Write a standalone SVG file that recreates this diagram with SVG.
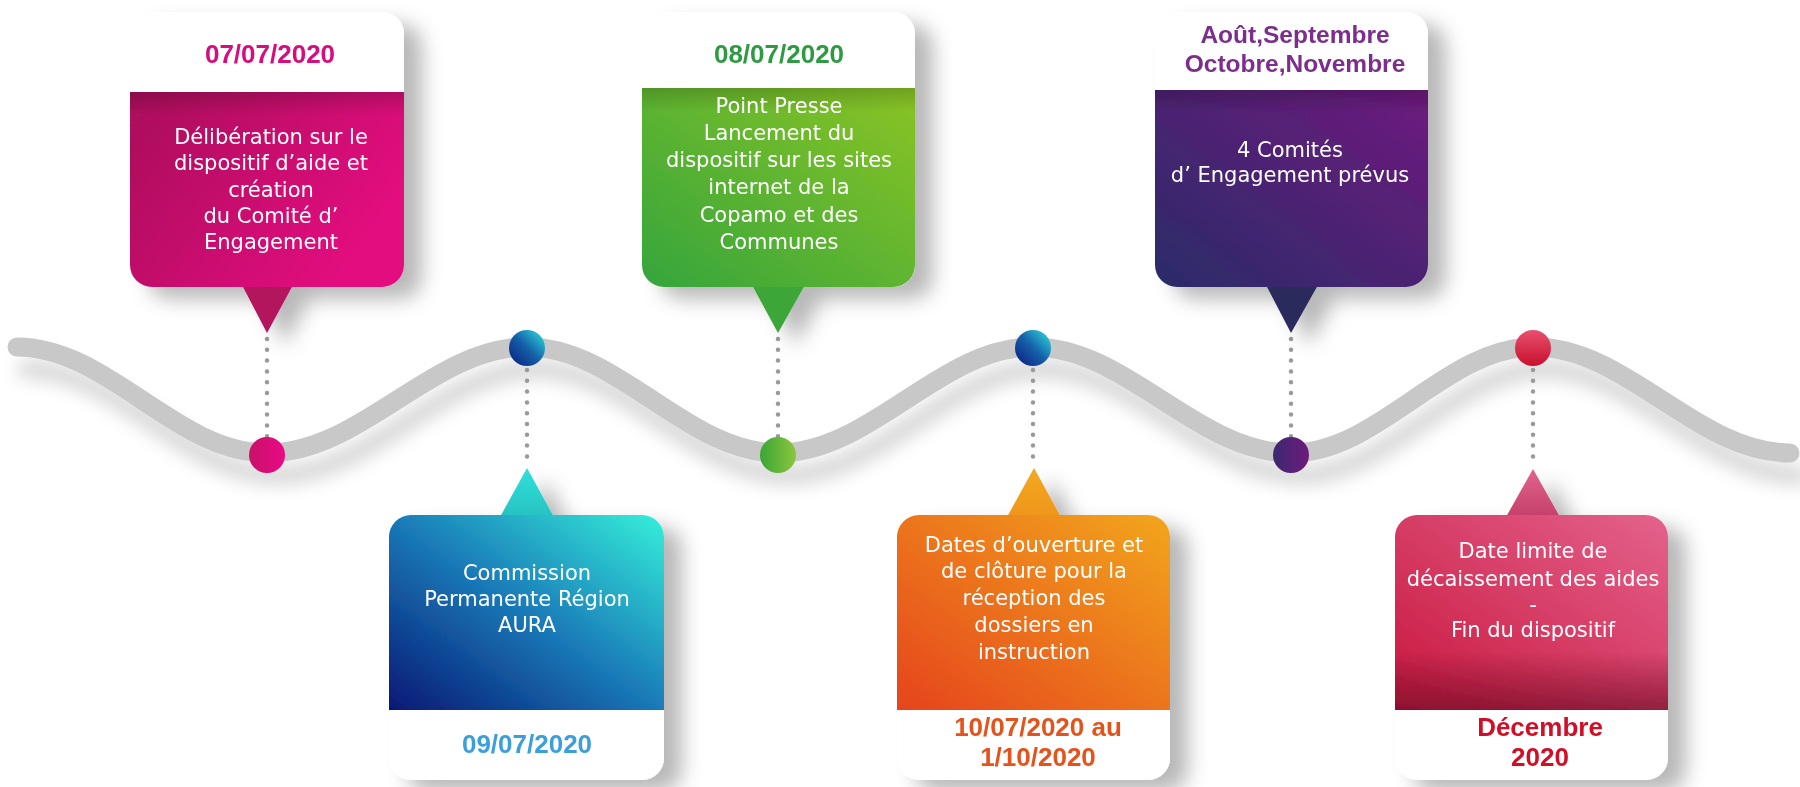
<svg xmlns="http://www.w3.org/2000/svg" width="1800" height="787" viewBox="0 0 1800 787">
<style>
.body{font-family:"DejaVu Sans","Liberation Sans",sans-serif;font-size:21px;fill:#ffffff;text-anchor:middle}
.date{font-family:"Liberation Sans",Arial,sans-serif;font-weight:700;font-size:26px;text-anchor:middle}
.dots{fill:none;stroke:#9a9a9a;stroke-width:4.5;stroke-linecap:round;stroke-dasharray:0 10.8}
.wave{fill:none;stroke:#c8c8c8;stroke-width:19;stroke-linecap:round}
.card{filter:url(#shadow)}
</style>
<defs>
<filter id="shadow" x="-30%" y="-30%" width="160%" height="160%">
<feDropShadow dx="18" dy="12" stdDeviation="10" flood-color="#000" flood-opacity="0.28"/>
</filter>
<filter id="blur" x="-10%" y="-50%" width="120%" height="200%">
<feGaussianBlur stdDeviation="9"/>
</filter>
<linearGradient id="gPink" x1="0" y1="0" x2="1" y2="0.5"><stop offset="0" stop-color="#a9125a"/><stop offset="1" stop-color="#e3087f"/></linearGradient>
<linearGradient id="gGreen" x1="1" y1="0" x2="0" y2="1"><stop offset="0" stop-color="#8ac425"/><stop offset="1" stop-color="#35a53c"/></linearGradient>
<linearGradient id="gPurple" x1="1" y1="0" x2="0" y2="1"><stop offset="0" stop-color="#6e1a7e"/><stop offset="1" stop-color="#2a2c68"/></linearGradient>
<linearGradient id="gBlue" x1="1" y1="0" x2="0" y2="1"><stop offset="0" stop-color="#35f0da"/><stop offset="0.5" stop-color="#1a7ab8"/><stop offset="1" stop-color="#061874"/></linearGradient>
<linearGradient id="gOrange" x1="1" y1="0" x2="0" y2="1"><stop offset="0" stop-color="#f2a61e"/><stop offset="1" stop-color="#e6441c"/></linearGradient>
<linearGradient id="gRed" x1="1" y1="0" x2="0" y2="1"><stop offset="0" stop-color="#e4628c"/><stop offset="1" stop-color="#c8173e"/></linearGradient>
<linearGradient id="gDark" x1="0" y1="0" x2="0" y2="1"><stop offset="0.7" stop-color="#5a0a20" stop-opacity="0"/><stop offset="1" stop-color="#5a0a20" stop-opacity="0.55"/></linearGradient>
<linearGradient id="gTop" x1="0" y1="0" x2="0" y2="1"><stop offset="0" stop-color="#000" stop-opacity="0.18"/><stop offset="0.12" stop-color="#000" stop-opacity="0"/></linearGradient>
<linearGradient id="cPink" x1="0" y1="0" x2="1" y2="0"><stop offset="0" stop-color="#c8106a"/><stop offset="1" stop-color="#ea0a84"/></linearGradient>
<linearGradient id="cBlue" x1="1" y1="0" x2="0" y2="1"><stop offset="0" stop-color="#30e4e0"/><stop offset="0.5" stop-color="#1560a8"/><stop offset="1" stop-color="#0a1a80"/></linearGradient>
<linearGradient id="cGreen" x1="0" y1="0" x2="1" y2="0"><stop offset="0" stop-color="#3aa535"/><stop offset="1" stop-color="#8cc63f"/></linearGradient>
<linearGradient id="cPurple" x1="0" y1="0" x2="1" y2="0"><stop offset="0" stop-color="#3a2a70"/><stop offset="1" stop-color="#6e1a7c"/></linearGradient>
<linearGradient id="cRed" x1="0" y1="0" x2="0" y2="1"><stop offset="0" stop-color="#e8506e"/><stop offset="1" stop-color="#c8102e"/></linearGradient>
<linearGradient id="tTeal" x1="0" y1="0" x2="0" y2="1"><stop offset="0" stop-color="#30e0d8"/><stop offset="1" stop-color="#27c3c3"/></linearGradient>
<linearGradient id="tOrange" x1="0" y1="0" x2="0" y2="1"><stop offset="0" stop-color="#f2a820"/><stop offset="1" stop-color="#ef961e"/></linearGradient>
<linearGradient id="tRed" x1="0" y1="0" x2="0" y2="1"><stop offset="0" stop-color="#e2648e"/><stop offset="1" stop-color="#c4406a"/></linearGradient>
</defs>
<rect width="1800" height="787" fill="#ffffff"/>

<g id="timeline">
<path class="wave" filter="url(#blur)" style="stroke:#000;stroke-opacity:0.16" transform="translate(10,22)" d="M17 347 C108 347 176 453 267 453 C362 453 432 347 527 347 C618 347 687 453 778 453 C871 453 940 347 1033 347 C1127 347 1197 453 1291 453 C1379 453 1446 347 1534 347 C1627 347 1697 453 1790 453"/>
<path class="wave" d="M17 347 C108 347 176 453 267 453 C362 453 432 347 527 347 C618 347 687 453 778 453 C871 453 940 347 1033 347 C1127 347 1197 453 1291 453 C1379 453 1446 347 1534 347 C1627 347 1697 453 1790 453"/>
</g>

<g id="connectors">
<line class="dots" x1="267" y1="339" x2="267" y2="437"/>
<line class="dots" x1="778" y1="339" x2="778" y2="437"/>
<line class="dots" x1="1291" y1="339" x2="1291" y2="437"/>
<line class="dots" x1="527" y1="370" x2="527" y2="466"/>
<line class="dots" x1="1033" y1="370" x2="1033" y2="466"/>
<line class="dots" x1="1533" y1="370" x2="1533" y2="466"/>
</g>

<g id="markers">
<circle cx="267" cy="455" r="18" fill="url(#cPink)"/>
<circle cx="527" cy="348" r="18" fill="url(#cBlue)"/>
<circle cx="778" cy="455" r="18" fill="url(#cGreen)"/>
<circle cx="1033" cy="348" r="18" fill="url(#cBlue)"/>
<circle cx="1291" cy="455" r="18" fill="url(#cPurple)"/>
<circle cx="1533" cy="348" r="18" fill="url(#cRed)"/>
</g>

<g id="card-0707" class="card">
<polygon points="242,285 293,285 267,333" fill="#b3125c"/>
<rect x="130" y="12" width="274" height="275" rx="22" fill="#ffffff"/>
<path d="M130 92 H404 V265 A22 22 0 0 1 382 287 H152 A22 22 0 0 1 130 265 Z" fill="url(#gPink)"/>
<path d="M130 92 H404 V265 A22 22 0 0 1 382 287 H152 A22 22 0 0 1 130 265 Z" fill="url(#gTop)"/>
<text class="date" x="270" y="63" fill="#d60a7c">07/07/2020</text>
<text class="body" x="271" y="144">Délibération sur le</text>
<text class="body" x="271" y="170">dispositif d’aide et</text>
<text class="body" x="271" y="197">création</text>
<text class="body" x="271" y="223">du Comité d’</text>
<text class="body" x="271" y="249">Engagement</text>
</g>

<g id="card-0807" class="card">
<polygon points="752,285 805,285 778,333" fill="#3ca637"/>
<rect x="642" y="12" width="273" height="275" rx="22" fill="#ffffff"/>
<path d="M642 88 H915 V265 A22 22 0 0 1 893 287 H664 A22 22 0 0 1 642 265 Z" fill="url(#gGreen)"/>
<path d="M642 88 H915 V265 A22 22 0 0 1 893 287 H664 A22 22 0 0 1 642 265 Z" fill="url(#gTop)"/>
<text class="date" x="779" y="63" fill="#2f9a42">08/07/2020</text>
<text class="body" x="779" y="113">Point Presse</text>
<text class="body" x="779" y="140">Lancement du</text>
<text class="body" x="779" y="167">dispositif sur les sites</text>
<text class="body" x="779" y="194">internet de la</text>
<text class="body" x="779" y="222">Copamo et des</text>
<text class="body" x="779" y="249">Communes</text>
</g>

<g id="card-aout-nov" class="card">
<polygon points="1266,285 1318,285 1291,333" fill="#2c2a5c"/>
<rect x="1155" y="12" width="273" height="275" rx="22" fill="#ffffff"/>
<path d="M1155 90 H1428 V265 A22 22 0 0 1 1406 287 H1177 A22 22 0 0 1 1155 265 Z" fill="url(#gPurple)"/>
<path d="M1155 90 H1428 V265 A22 22 0 0 1 1406 287 H1177 A22 22 0 0 1 1155 265 Z" fill="url(#gTop)"/>
<text class="date" x="1295" y="43" fill="#7c2d8d" style="font-size:24.5px">Août,Septembre</text>
<text class="date" x="1295" y="71.5" fill="#7c2d8d" style="font-size:24.5px">Octobre,Novembre</text>
<text class="body" x="1290" y="157">4 Comités</text>
<text class="body" x="1290" y="182">d’ Engagement prévus</text>
</g>

<g id="card-0907" class="card">
<polygon points="527,468 500,517 554,517" fill="url(#tTeal)"/>
<rect x="389" y="515" width="275" height="265" rx="22" fill="#ffffff"/>
<path d="M389 710 V537 A22 22 0 0 1 411 515 H642 A22 22 0 0 1 664 537 V710 Z" fill="url(#gBlue)"/>
<text class="body" x="527" y="580">Commission</text>
<text class="body" x="527" y="606">Permanente Région</text>
<text class="body" x="527" y="632">AURA</text>
<text class="date" x="527" y="753" fill="#3b9fdc">09/07/2020</text>
</g>

<g id="card-1007" class="card">
<polygon points="1034,468 1007,517 1061,517" fill="url(#tOrange)"/>
<rect x="897" y="515" width="273" height="265" rx="22" fill="#ffffff"/>
<path d="M897 710 V537 A22 22 0 0 1 919 515 H1148 A22 22 0 0 1 1170 537 V710 Z" fill="url(#gOrange)"/>
<text class="body" x="1034" y="552">Dates d’ouverture et</text>
<text class="body" x="1034" y="578">de clôture pour la</text>
<text class="body" x="1034" y="605">réception des</text>
<text class="body" x="1034" y="632">dossiers en</text>
<text class="body" x="1034" y="659">instruction</text>
<text class="date" x="1038" y="736" fill="#e4531c">10/07/2020 au</text>
<text class="date" x="1038" y="766" fill="#e4531c">1/10/2020</text>
</g>

<g id="card-decembre" class="card">
<polygon points="1533,469 1506,517 1560,517" fill="url(#tRed)"/>
<rect x="1395" y="515" width="273" height="265" rx="22" fill="#ffffff"/>
<path d="M1395 710 V537 A22 22 0 0 1 1417 515 H1646 A22 22 0 0 1 1668 537 V710 Z" fill="url(#gRed)"/>
<path d="M1395 710 V537 A22 22 0 0 1 1417 515 H1646 A22 22 0 0 1 1668 537 V710 Z" fill="url(#gDark)"/>
<text class="body" x="1533" y="558">Date limite de</text>
<text class="body" x="1533" y="586">décaissement des aides</text>
<text class="body" x="1533" y="612">-</text>
<text class="body" x="1533" y="637">Fin du dispositif</text>
<text class="date" x="1540" y="736" fill="#d20f25">Décembre</text>
<text class="date" x="1540" y="766" fill="#d20f25">2020</text>
</g>
</svg>
